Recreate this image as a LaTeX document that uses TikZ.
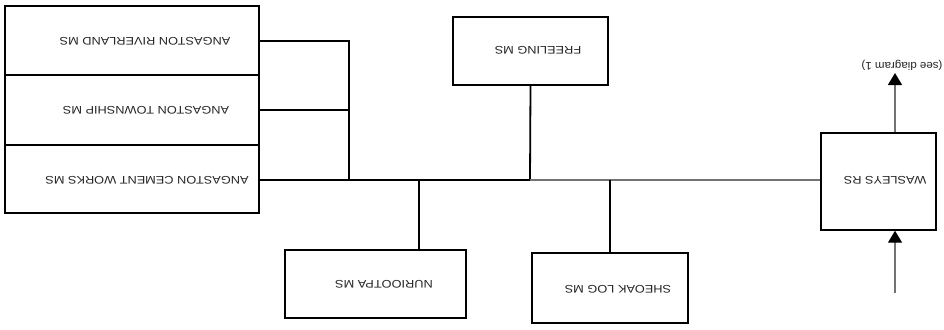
\documentclass[tikz,border=0pt]{standalone}
\usepackage{fontspec}
\setmainfont{Liberation Sans}
\usetikzlibrary{arrows.meta}
\begin{document}
\begin{tikzpicture}[x=1pt,y=-1pt,
  box/.style={draw=black, line width=1.4pt, rectangle, inner sep=0pt, fill=white},
  lbl/.style={rotate=180, xscale=1.16, font=\fontsize{11}{13}\selectfont, inner sep=0pt, text=black!85},
  wire/.style={line width=1.8pt, black},
  gwire/.style={line width=1.5pt, black!55},
  arr/.style={line width=1.3pt, black!55, -{Triangle[width=14pt,length=12pt,black]}}
]
\useasboundingbox[fill=white] (0,0) rectangle (944,329);
% boxes
\node[box, minimum width=254pt, minimum height=69pt] (riv) at (132,40.5) {};
\node[box, minimum width=254pt, minimum height=70pt] (town) at (132,110) {};
\node[box, minimum width=254pt, minimum height=68pt] (cem) at (132,179) {};
\node[box, minimum width=155pt, minimum height=68pt] (free) at (530.5,51) {};
\node[box, minimum width=181pt, minimum height=68pt] (nur) at (375.5,284) {};
\node[box, minimum width=156pt, minimum height=70pt] (she) at (610,288) {};
\node[box, minimum width=115pt, minimum height=97pt] (was) at (878.5,181.5) {};
% labels
\node[lbl] (rivt) at (145,41) {ANGASTON RIVERLAND MS};
\node[lbl] (townt) at (146,110) {ANGASTON TOWNSHIP MS};
\node[lbl] (cemt) at (147,180) {ANGASTON CEMENT WORKS MS};
\node[lbl] (freet) at (538,50) {FREELING MS};
\node[lbl] (nurt) at (384,284) {NURIOOTPA MS};
\node[lbl] (shet) at (618,289) {SHEOAK LOG MS};
\node[lbl] (wast) at (885,180) {WASLEYS RS};
\node[lbl, xscale=1.05/1.16] (see) at (902,65) {(see diagram 1)};
% junction coordinates
\coordinate (j1) at (349,180);
\coordinate (jn) at (419,180);
\coordinate (jf) at (530,180);
\coordinate (js) at (610,180);
\coordinate (atop) at (895,73);
\coordinate (abot) at (895,293);
% connectors
\draw[wire] (riv.east |- rivt) -- (j1 |- rivt) -- (j1);
\draw[wire] (town.east |- townt) -- (j1 |- townt);
\draw[wire] (cem.east |- j1) -- (jf);
\draw[wire] (free.south) -- (jf);
\draw[wire] (jn) -- (jn |- nur.north);
\draw[gwire] (jf) -- (was.west |- jf);
\draw[wire, line width=1.6pt] (js) -- (she.north);
\draw[arr] (was.north -| atop) -- (atop);
\draw[arr] (abot) -- (abot |- was.south);
\end{tikzpicture}
\end{document}
